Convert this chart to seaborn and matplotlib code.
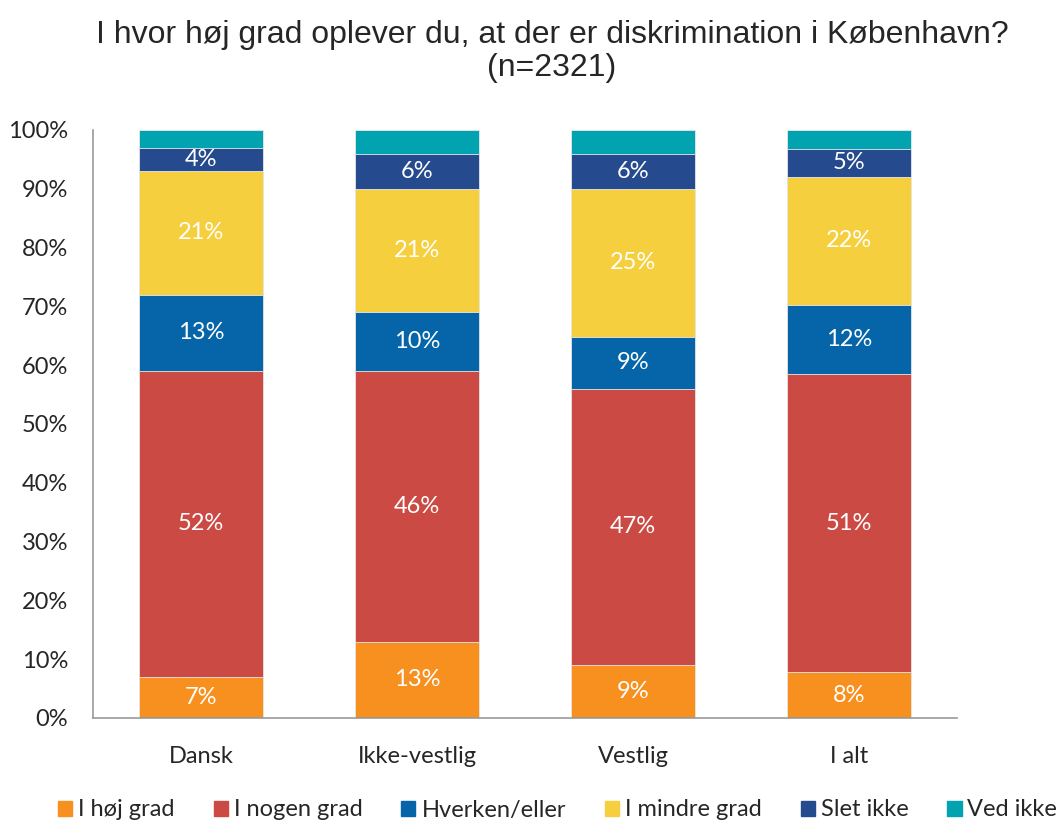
#!/usr/bin/env python3
"""Stacked bar chart: experienced discrimination in Copenhagen."""

import matplotlib
matplotlib.use('Agg')
import matplotlib.pyplot as plt
import matplotlib.patches as mpatches
from matplotlib.ticker import FuncFormatter
import pandas as pd
import seaborn as sns

# Data (percent of respondents)
groups = ['Dansk', 'Ikke-vestlig', 'Vestlig', 'I alt']
levels = ['I høj grad', 'I nogen grad', 'Hverken/eller', 'I mindre grad', 'Slet ikke', 'Ved ikke']
hoej = [7, 13, 9, 7.8]
nogen = [52, 46, 47, 50.7]
hverken = [13, 10, 8.8, 11.8]
mindre = [21, 21, 25.2, 21.7]
slet = [4, 6, 6, 4.8]
ved_ikke = [3, 4, 4, 3.2]
labels_shown = ['I høj grad', 'I nogen grad', 'Hverken/eller', 'I mindre grad', 'Slet ikke']

colors = ['#F7901E', '#CB4A44', '#0565A8', '#F6CF3E', '#264A8E', '#02A3B0']

df = pd.DataFrame(dict(zip(levels, [hoej, nogen, hverken, mindre, slet, ved_ikke])), index=groups)
cum = df.cumsum(axis=1)

sns.set_theme(style='white')
plt.rcParams['font.family'] = ['Lato', 'DejaVu Sans']

fig = plt.figure(figsize=(10.56, 8.24), dpi=100)
ax = fig.add_axes([93 / 1056, 1 - 718 / 824, 864 / 1056, 588 / 824])

# Draw cumulative totals from the top down so each layer covers the one above it
for level, color in reversed(list(zip(levels, colors))):
    sns.barplot(x=groups, y=cum[level].values, color=color, width=0.57,
                edgecolor='#e8e8e8', linewidth=0.6, ax=ax, saturation=1)

# Segment labels
for level in labels_shown:
    for i, g in enumerate(groups):
        val = df.loc[g, level]
        mid = cum.loc[g, level] - val / 2
        ax.text(i, mid, f'{round(val):d}%', ha='center', va='center',
                color='white', fontsize=17)

ax.set_ylim(0, 100)
ax.set_xlim(-0.5, 3.5)
ax.set_yticks(range(0, 101, 10))
ax.yaxis.set_major_formatter(FuncFormatter(lambda v, _: f'{v:.0f}%'))
ax.tick_params(axis='both', labelsize=17, length=0)
ax.tick_params(axis='y', pad=18)
ax.tick_params(axis='x', pad=20)
for side in ['top', 'right']:
    ax.spines[side].set_visible(False)
for side in ['left', 'bottom']:
    ax.spines[side].set_color('#999999')
    ax.spines[side].set_linewidth(1.2)
ax.set_xlabel('')
ax.set_ylabel('')

title_font = ['Liberation Sans', 'DejaVu Sans']
fig.text(552 / 1056, 1 - 35 / 824, 'I hvor høj grad oplever du, at der er diskrimination i København?',
         ha='center', va='center', fontsize=23, family=title_font)
fig.text(552 / 1056, 1 - 68 / 824, '(n=2321)', ha='center', va='center', fontsize=23,
         family=title_font)

handles = [mpatches.Patch(color=c, label=l) for l, c in zip(levels, colors)]
fig.legend(handles=handles, loc='center left', bbox_to_anchor=(58 / 1056, 1 - 810 / 824),
           ncol=6, frameon=False, fontsize=17, handlelength=0.6, handleheight=0.6,
           handletextpad=0.25, columnspacing=1.65, borderaxespad=0, borderpad=0)

fig.savefig('out.png', dpi=100)
